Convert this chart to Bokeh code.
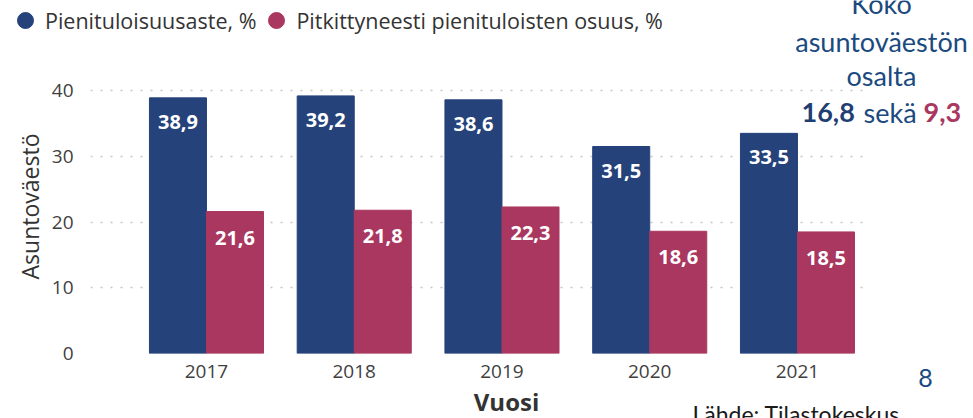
import math
from bokeh.plotting import figure
from bokeh.layouts import column
from bokeh.models import (ColumnDataSource, Range1d, Legend, LegendItem, Label,
                          FixedTicker, GridBox)
from bokeh.transform import dodge
from bokeh.core.properties import value
from bokeh.embed import file_html
from bokeh.resources import INLINE

# ---------------- data ----------------
years = [2017, 2018, 2019, 2020, 2021]
pienituloisuusaste = [38.9, 39.2, 38.6, 31.5, 33.5]
pitkittyneesti = [21.6, 21.8, 22.3, 18.6, 18.5]
y_ticks = [0, 10, 20, 30, 40]
series_names = ["Pienituloisuusaste, %", "Pitkittyneesti pienituloisten osuus, %"]
koko_pieni = "16,8"
koko_pitk = "9,3"

BLUE = "#25427A"
PINK = "#A9375F"
FONT = "Open Sans"
W, H = 973, 418

def fmt(v):
    return f"{v:.1f}".replace(".", ",")

src = ColumnDataSource(dict(
    year=years,
    a=pienituloisuusaste,
    b=pitkittyneesti,
    a_txt=[fmt(v) for v in pienituloisuusaste],
    b_txt=[fmt(v) for v in pitkittyneesti],
))

# ---------------- main chart ----------------
p = figure(width=W, height=H, output_backend="svg", toolbar_location=None,
           x_range=Range1d(2016.215, 2021.474), y_range=Range1d(0, 42),
           min_border_left=90, min_border_right=106, min_border_top=77, min_border_bottom=65)
p.outline_line_color = None

bw = 0.386
p.vbar(x=dodge("year", -bw / 2, range=p.x_range), top="a", width=bw, source=src,
       fill_color=BLUE, line_color=BLUE)
p.vbar(x=dodge("year", bw / 2, range=p.x_range), top="b", width=bw, source=src,
       fill_color=PINK, line_color=PINK)

p.text(x=dodge("year", -bw / 2, range=p.x_range), y="a", text="a_txt", source=src,
       text_color="white", text_font=value(FONT), text_font_style="bold",
       text_font_size="20px", text_align="center", text_baseline="middle", y_offset=24)
p.text(x=dodge("year", bw / 2, range=p.x_range), y="b", text="b_txt", source=src,
       text_color="white", text_font=value(FONT), text_font_style="bold",
       text_font_size="20px", text_align="center", text_baseline="middle", y_offset=26)

p.xaxis.ticker = FixedTicker(ticks=years)
p.yaxis.ticker = FixedTicker(ticks=y_ticks)
for ax in (p.xaxis[0], p.yaxis[0]):
    ax.axis_line_color = None
    ax.major_tick_line_color = None
    ax.minor_tick_line_color = None
    ax.major_label_text_font = FONT
    ax.major_label_text_font_size = "19px"
    ax.major_label_text_color = "#3F3F3F"
p.xaxis.major_label_standoff = 5
p.yaxis.major_label_standoff = 11

p.xgrid.grid_line_color = None
p.ygrid.grid_line_color = "#C8C6C4"
p.ygrid.grid_line_dash = "2 8"
p.ygrid.grid_line_width = 1.5

# ---------------- overlay for legend & free texts (pixel coordinates) ----------------
o = figure(width=W, height=H, output_backend="svg", toolbar_location=None,
           x_range=Range1d(0, W), y_range=Range1d(H, 0),
           x_axis_location=None, y_axis_location=None,
           min_border=0, min_border_left=0, min_border_right=0, min_border_top=0, min_border_bottom=0)
o.grid.visible = False
o.outline_line_color = None
o.background_fill_color = None
o.border_fill_color = None

# legend proxies: one non-drawable (NaN) point each, so the legend draws its circle
nan = float("nan")
ra = o.scatter(x=[nan], y=[nan], marker="circle", size=16, fill_color=BLUE, line_color=BLUE)
rb = o.scatter(x=[nan], y=[nan], marker="circle", size=16, fill_color=PINK, line_color=PINK)
legend = Legend(items=[LegendItem(label=series_names[0], renderers=[ra]),
                       LegendItem(label=series_names[1], renderers=[rb])],
                orientation="horizontal", location=(5, 378),
                label_text_font=FONT, label_text_font_size="21.5px", label_text_color="#333333",
                glyph_width=40, glyph_height=40, label_standoff=-7, spacing=-34,
                padding=0, margin=0, border_line_color=None, background_fill_alpha=0)
o.add_layout(legend, "center")

NAVY = "#1B4A80"
def lab(txt, x, y, size, color, align="center", style="normal", baseline="alphabetic",
        font="Lato", angle=0):
    o.add_layout(Label(x=x, y=y, text=txt, text_font=font, text_font_size=size,
                       text_color=color, text_align=align, text_baseline=baseline,
                       text_font_style=style, angle=angle))

# axis titles
lab("Asuntoväestö", 29, 206, "23px", "#333333", baseline="middle", font=FONT, angle=math.pi / 2)
lab("Vuosi", 506, 401, "24px", "#333333", baseline="middle", font=FONT, style="bold")

# side note
lab("Koko", 881, 2.5, "27px", NAVY)
lab("asuntoväestön", 881, 40.5, "27px", NAVY)
lab("osalta", 881, 74.5, "27px", NAVY)
lab(koko_pieni, 801, 111.5, "27px", "#1F3F73", align="left", style="bold")
lab("sekä", 863, 111.5, "27px", NAVY, align="left")
lab(koko_pitk, 923, 111.5, "27px", PINK, align="left", style="bold")
lab("8", 925, 377, "25px", NAVY)
lab("Lähde: Tilastokeskus", 692, 413, "23px", "#1A1A1A", align="left")

layout = GridBox(children=[(column(p), 0, 0), (column(o), 0, 0)])
open("out.html", "w").write(file_html(layout, INLINE))
